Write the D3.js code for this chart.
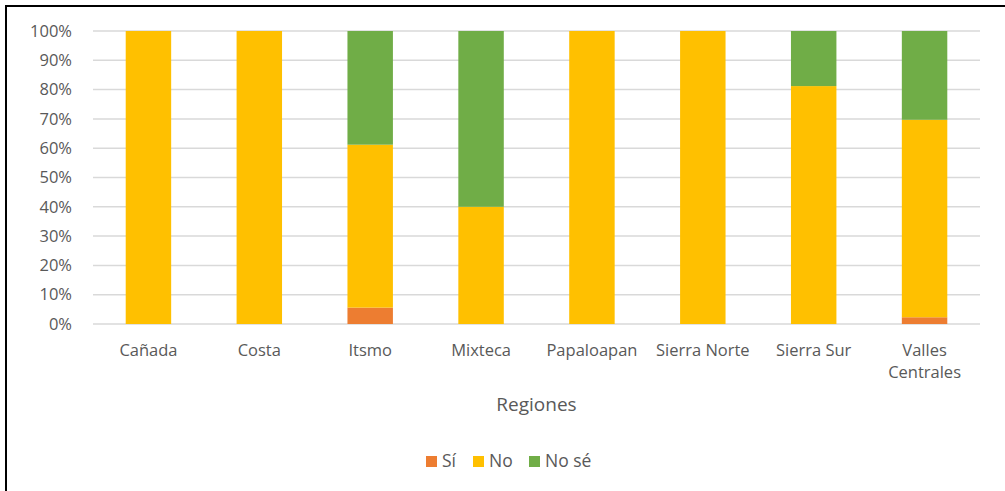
<!DOCTYPE html>
<html>
<head>
<meta charset="utf-8">
<script src="https://cdn.jsdelivr.net/npm/d3@7"></script>
<style>
  body { margin: 0; background: #fff; }
  svg { display: block; font-family: "Open Sans", sans-serif; }
</style>
</head>
<body>
<div id="chart"></div>
<script>
const regions = ['Cañada', 'Costa', 'Itsmo', 'Mixteca', 'Papaloapan', 'Sierra Norte', 'Sierra Sur', 'Valles Centrales'];
const si = [0, 0, 5.6, 0, 0, 0, 0, 2.3];
const no = [100, 100, 55.6, 40, 100, 100, 81.2, 67.4];
const nose = [0, 0, 38.8, 60, 0, 0, 18.8, 30.3];
const seriesNames = ['Sí', 'No', 'No sé'];
const seriesColors = ['#ED7D31', '#FFC000', '#70AD47'];
const yTicks = [0, 10, 20, 30, 40, 50, 60, 70, 80, 90, 100];

const width = 1005, height = 491;
const margin = { left: 93, right: 25, top: 31, bottom: 167 };

const svg = d3.select('#chart').append('svg')
  .attr('width', width).attr('height', height);

// outer frame (only top and left edges fall inside the picture)
svg.append('rect')
  .attr('x', 6).attr('y', 6)
  .attr('width', width + 10).attr('height', height + 10)
  .attr('fill', 'none').attr('stroke', '#000').attr('stroke-width', 2);

const x = d3.scaleBand()
  .domain(regions)
  .range([margin.left, width - margin.right])
  .paddingInner(0.59).paddingOuter(0.295);

const y = d3.scaleLinear()
  .domain([0, 100])
  .range([height - margin.bottom, margin.top]);

// gridlines
svg.append('g')
  .selectAll('line')
  .data(yTicks)
  .join('line')
  .attr('x1', margin.left).attr('x2', width - margin.right)
  .attr('y1', d => y(d)).attr('y2', d => y(d))
  .attr('stroke', '#D9D9D9').attr('stroke-width', 1.5);

// y labels
const yAxis = d3.axisLeft(y).tickValues(yTicks).tickFormat(d => d + '%').tickSize(0).tickPadding(21);
svg.append('g')
  .attr('transform', `translate(${margin.left},0)`)
  .call(yAxis)
  .call(g => g.select('.domain').remove())
  .call(g => g.selectAll('text').attr('fill', '#595959').style('font-size', '16.5px').style('font-family', '"Open Sans", sans-serif'));

// stacked bars
const table = regions.map((r, i) => ({ region: r, 'Sí': si[i], 'No': no[i], 'No sé': nose[i] }));
const stack = d3.stack().keys(seriesNames)(table);

svg.append('g')
  .selectAll('g')
  .data(stack)
  .join('g')
  .attr('fill', (d, i) => seriesColors[i])
  .selectAll('rect')
  .data(d => d)
  .join('rect')
  .attr('x', d => x(d.data.region))
  .attr('width', x.bandwidth())
  .attr('y', d => y(d[1]))
  .attr('height', d => y(d[0]) - y(d[1]));

// x labels
const xLabels = svg.append('g').attr('fill', '#595959').style('font-size', '16.5px');
regions.forEach(r => {
  const words = r === 'Valles Centrales' ? ['Valles', 'Centrales'] : [r];
  const t = xLabels.append('text')
    .attr('text-anchor', 'middle')
    .attr('x', x(r) + x.bandwidth() / 2)
    .attr('y', 356);
  words.forEach((w, k) => {
    t.append('tspan')
      .attr('x', x(r) + x.bandwidth() / 2)
      .attr('dy', k === 0 ? 0 : 22)
      .text(w);
  });
});

// axis title
svg.append('text')
  .attr('x', (margin.left + width - margin.right) / 2)
  .attr('y', 411)
  .attr('text-anchor', 'middle')
  .attr('fill', '#595959')
  .style('font-size', '19px')
  .text('Regiones');

// legend
const legendX = [426, 473, 529];
const legend = svg.append('g');
seriesNames.forEach((s, i) => {
  legend.append('rect')
    .attr('x', legendX[i]).attr('y', 456)
    .attr('width', 11).attr('height', 11)
    .attr('fill', seriesColors[i]);
  legend.append('text')
    .attr('x', legendX[i] + 16).attr('y', 467)
    .attr('fill', '#595959')
    .style('font-size', '17.5px')
    .text(s);
});
</script>
</body>
</html>
